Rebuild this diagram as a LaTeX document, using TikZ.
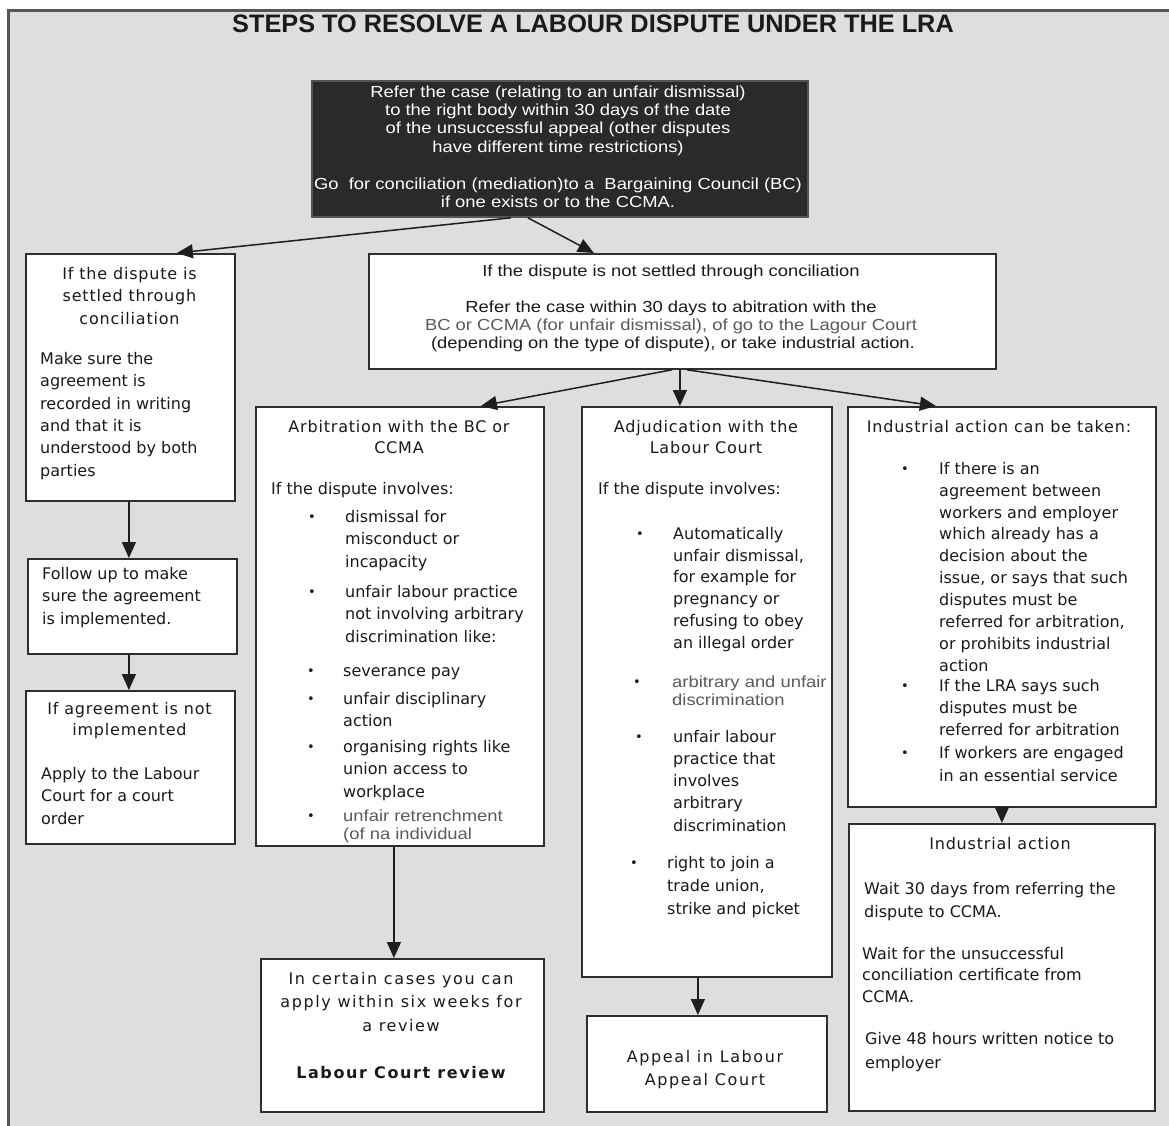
\documentclass[tikz,border=0pt]{standalone}
\usepackage{fontspec}
\setmainfont{DejaVu Sans}
\newfontfamily\djf{DejaVu Sans}
\newfontfamily\djsp[LetterSpace=10]{DejaVu Sans}
\newfontfamily\djhd[LetterSpace=5]{DejaVu Sans}
\newfontfamily\narf[FakeStretch=1.15]{Liberation Sans}
\newfontfamily\ttlfam{Liberation Sans}
\usetikzlibrary{arrows.meta}
\newcommand\bodyf{\djf\fontsize{16}{16}\selectfont}
\newcommand\hdf{\djhd\fontsize{16}{16}\selectfont}
\newcommand\spf{\djsp\fontsize{16}{16}\selectfont}
\newcommand\narfs{\narf\fontsize{16}{16}\selectfont}
\newcommand\bulf{\djf\fontsize{13}{13}\selectfont}
\newcommand\ttlf{\ttlfam\bfseries\fontsize{25.3}{25.3}\selectfont}
\definecolor{bg}{HTML}{DDDEE0}
\definecolor{framec}{HTML}{555555}
\definecolor{boxc}{HTML}{2E2E2E}
\definecolor{blk}{HTML}{2B2A2B}
\definecolor{txt}{HTML}{1A1A1A}
\definecolor{gtxt}{HTML}{5A5A5A}
\definecolor{linec}{HTML}{1E1E1E}
\tikzset{
  box/.style={draw=boxc, line width=1.8pt, fill=white, inner sep=0pt, anchor=north west},
  t/.style={inner sep=0pt, text height=8.5pt, text depth=0pt, font=\bodyf, text=txt},
  tl/.style={t, anchor=west},
  tc/.style={t, anchor=center},
  bul/.style={inner sep=0pt, anchor=center, font=\bulf, text=txt},
  arr/.style={draw=linec, line width=1.5pt, -{Triangle[length=16pt,width=14pt]}},
}
% style, name, x, y0, pitch, list of lines
\newcommand\Lines[6]{%
  \foreach \tx [count=\i] in {#6}{%
    \node[#1] (#2-\i) at (#3,{#4+(\i-1)*#5}) {\tx};}}
\newcommand\Bx[6]{\node[box,#6,minimum width={#4-#2},minimum height={#5-#3}] (#1) at (#2,#3) {};}
\newcommand\Bul[3]{\node[bul] (#1) at (#2,#3) {•};}
\begin{document}
\begin{tikzpicture}[x=1pt,y=-1pt]
\useasboundingbox (0,0) rectangle (1169,1126);
\fill[white] (0,0) rectangle (1169,1126);
\fill[bg] (8,11) rectangle (1169,1126);
\draw[framec, line width=3pt] (8,1126) -- (8,11) -- (1169,11);

% title
\node[font=\ttlf, anchor=base, inner sep=0pt, text=txt] (title) at (593,32.5) {STEPS TO RESOLVE A LABOUR DISPUTE UNDER THE LRA};

% boxes
\Bx{bb}{311}{80}{807}{216}{fill=blk, draw=framec}
\Bx{settled}{25}{253}{234}{500}{}
\Bx{follow}{27}{558}{236}{653}{}
\Bx{agree}{25}{690}{234}{843}{}
\Bx{notset}{368}{253}{995}{368}{}
\Bx{arb}{255}{406}{543}{845}{}
\Bx{adj}{581}{406}{831}{976}{}
\Bx{ind}{847}{406}{1155}{806}{}
\Bx{review}{260}{958}{543}{1111}{}
\Bx{appeal}{586}{1015}{826}{1111}{}
\Bx{indact}{848}{823}{1154}{1110}{}

% connectors
\draw[arr] ([xshift=-49pt]bb.south) -- ([xshift=46.5pt]settled.north);
\draw[arr] ([xshift=-32pt]bb.south) -- ([xshift=-88.5pt]notset.north);
\draw[arr] ([xshift=-10.5pt]notset.south) -- ([xshift=81pt]arb.north);
\draw[arr] ([xshift=-2.5pt]notset.south) -- ([xshift=-2.5pt]notset.south |- adj.north);
\draw[arr] ([xshift=4.5pt]notset.south) -- ([xshift=-66pt]ind.north);
\draw[arr] ([xshift=-1.5pt]settled.south) -- ([xshift=-1.5pt]settled.south |- follow.north);
\draw[arr] ([xshift=-3.5pt]follow.south) -- ([xshift=-3.5pt]follow.south |- agree.north);
\draw[arr] ([xshift=-6pt]arb.south) -- ([xshift=-6pt]arb.south |- review.north);
\draw[arr] ([xshift=-9pt]adj.south) -- ([xshift=-9pt]adj.south |- appeal.north);
\draw[arr] (ind.south) -- (ind.south |- indact.north);

% black box text
\Lines{tc,font=\narfs,text=white}{bba}{558}{93}{18.3}{{Refer the case (relating to an unfair dismissal)},{to the right body within 30 days of the date},{of the unsuccessful appeal (other disputes},{have different time restrictions)}}
\Lines{tc,font=\narfs,text=white}{bbb}{558}{185}{18.3}{{Go\ \ for conciliation (mediation)to a\ \ Bargaining Council (BC)},{if one exists or to the CCMA.}}

% not settled
\node[tc,font=\narfs] (ns-1) at (671,272) {If the dispute is not settled through conciliation};
\node[tc,font=\narfs] (ns-2) at (671,308) {Refer the case within 30 days to abitration with the};
\node[tc,font=\narfs,text=gtxt] (ns-3) at (671,326) {BC or CCMA (for unfair dismissal), of go to the Lagour Court};
\node[tc,font=\narfs] (ns-4) at (673,344) {(depending on the type of dispute), or take industrial action.};

% settled
\Lines{tc,font=\hdf}{st}{129.5}{275}{22.5}{If the dispute is,settled through,conciliation}
\Lines{tl}{stb}{40}{360}{22.4}{Make sure the,agreement is,recorded in writing,and that it is,understood by both,parties}

% follow
\Lines{tl}{fo}{42}{575}{22.5}{Follow up to make,sure the agreement,is implemented.}

% agreement not implemented
\Lines{tc,font=\hdf}{ag}{129.5}{710}{21.5}{If agreement is not,implemented}
\Lines{tl}{agb}{41}{775}{22.5}{Apply to the Labour,Court for a court,order}

% arbitration
\Lines{tc,font=\hdf}{ar}{399}{428}{21.5}{Arbitration with the BC or,CCMA}
\node[tl] (ar-inv) at (271,490) {If the dispute involves:};
\Bul{arb1}{312}{518}
\Lines{tl}{ari1}{345}{518}{22.5}{dismissal for,misconduct or,incapacity}
\Bul{arb2}{312}{593}
\Lines{tl}{ari2}{345}{593}{22.5}{unfair labour practice,not involving arbitrary,discrimination like:}
\Bul{arb3}{311}{672}
\Lines{tl}{ari3}{343}{672}{22}{severance pay}
\Bul{arb4}{311}{700}
\Lines{tl}{ari4}{343}{700}{22}{unfair disciplinary,action}
\Bul{arb5}{311}{748}
\Lines{tl}{ari5}{343}{748}{22.5}{organising rights like,union access to,workplace}
\Bul{arb6}{311}{817}
\Lines{tl,font=\narfs,text=gtxt}{ari6}{343}{817}{18}{unfair retrenchment,{(of na individual}}

% adjudication
\Lines{tc,font=\hdf}{ad}{706}{428}{21.5}{Adjudication with the,Labour Court}
\node[tl] (ad-inv) at (598,490) {If the dispute involves:};
\Bul{adb1}{640}{535}
\Lines{tl}{adi1}{673}{535}{21.8}{Automatically,{unfair dismissal,},for example for,pregnancy or,refusing to obey,an illegal order}
\Bul{adb2}{637}{683}
\Lines{tl,font=\narfs,text=gtxt}{adi2}{672}{683}{18.5}{arbitrary and unfair,discrimination}
\Bul{adb3}{639}{738}
\Lines{tl}{adi3}{673}{738}{22.2}{unfair labour,practice that,involves,arbitrary,discrimination}
\Bul{adb4}{634}{864}
\Lines{tl}{adi4}{667}{864}{23}{right to join a,{trade union,},strike and picket}

% industrial action can be taken
\node[tc,font=\hdf] (in-h) at (999,428) {Industrial action can be taken:};
\Bul{inb1}{905}{470}
\Lines{tl}{ini1}{939}{470}{21.9}{If there is an,agreement between,workers and employer,which already has a,decision about the,{issue, or says that such},disputes must be,{referred for arbitration,},or prohibits industrial,action}
\Bul{inb2}{905}{687}
\Lines{tl}{ini2}{939}{687}{22}{If the LRA says such,disputes must be,referred for arbitration}
\Bul{inb3}{905}{754}
\Lines{tl}{ini3}{939}{754}{23}{If workers are engaged,in an essential service}

% industrial action
\node[tc,font=\hdf] (ia-h) at (1000,845) {Industrial action};
\Lines{tl}{ia1}{864}{890}{23}{Wait 30 days from referring the,dispute to CCMA.}
\Lines{tl}{ia2}{862}{955}{21.5}{Wait for the unsuccessful,conciliation certificate from,CCMA.}
\Lines{tl}{ia3}{865}{1040}{24}{Give 48 hours written notice to,employer}

% review
\Lines{tc,font=\spf}{rv}{401}{980}{23.5}{In certain cases you can,apply within six weeks for,a review}
\node[tc,font=\spf\bfseries] (rv-b) at (401,1074) {Labour Court review};

% appeal
\Lines{tc,font=\spf}{ap}{705}{1058}{23}{Appeal in Labour,Appeal Court}
\end{tikzpicture}
\end{document}
